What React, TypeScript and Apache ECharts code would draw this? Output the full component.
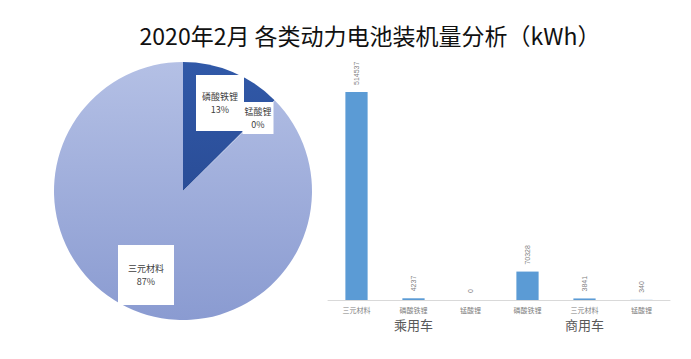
import React, { useEffect, useRef } from "react";
import * as echarts from "echarts";

const TITLE = "2020年2月 各类动力电池装机量分析（kWh）";

const barCategories = ["三元材料", "磷酸铁锂", "锰酸锂", "磷酸铁锂", "三元材料", "锰酸锂"];
const barGroups = ["乘用车", "商用车"];
const barValues = [514537, 4237, 0, 70328, 3841, 340];

const pieNames = ["磷酸铁锂", "锰酸锂", "三元材料"];
const pieValues = [74565, 340, 518378];

export default function App() {
  const ref = useRef<HTMLDivElement>(null);
  useEffect(() => {
    document.body.style.margin = "0";
    const chart = echarts.init(ref.current!, undefined, { renderer: "svg" });

    const pieStyle: Record<string, any> = {
      磷酸铁锂: {
        color: new echarts.graphic.LinearGradient(0, 0, 0, 1, [
          { offset: 0, color: "#3159a8" },
          { offset: 1, color: "#2a4d97" },
        ]),
        pos: [220, 103],
        padding: [15, 6, 15, 6],
      },
      锰酸锂: {
        color: "#c5cfea",
        pos: [258, 118],
        padding: [3, 2, 3, 2],
      },
      三元材料: {
        color: new echarts.graphic.LinearGradient(0, 0, 0, 1, [
          { offset: 0, color: "#b4c0e5" },
          { offset: 1, color: "#8a9bd1" },
        ]),
        pos: [146, 275],
        padding: [17, 10, 17, 10],
      },
    };

    const pieData = pieNames.map((n, i) => ({
      name: n,
      value: pieValues[i],
      itemStyle: { color: pieStyle[n].color },
      label: { padding: pieStyle[n].padding },
    }));

    chart.setOption({
      animation: false,
      backgroundColor: "#ffffff",
      title: {
        text: TITLE,
        left: 365,
        textAlign: "center",
        top: 18,
        textStyle: {
          fontFamily: "Noto Sans CJK SC",
          fontSize: 23,
          fontWeight: "normal",
          color: "#111111",
        },
      },
      grid: { left: 328, right: 21, top: 92, bottom: 59 },
      xAxis: [
        {
          type: "category",
          data: barCategories,
          axisLine: { lineStyle: { color: "#d9d9d9" } },
          axisTick: { length: 14, lineStyle: { color: "#d9d9d9" } },
          axisLabel: {
            fontSize: 7,
            color: "#7f7f7f",
            margin: 6,
            fontFamily: "Noto Sans CJK SC",
            interval: 0,
          },
        },
        {
          type: "category",
          data: barGroups,
          position: "bottom",
          offset: 14,
          axisLine: { show: false },
          axisTick: { length: 22, lineStyle: { color: "#d9d9d9" } },
          axisLabel: {
            fontSize: 13,
            color: "#595959",
            margin: 4,
            fontFamily: "Noto Sans CJK SC",
          },
        },
      ],
      yAxis: { type: "value", show: false, min: 0, max: "dataMax" },
      series: [
        {
          type: "bar",
          data: barValues,
          barWidth: "39%",
          itemStyle: { color: "#5b9bd5" },
          label: {
            show: true,
            position: "top",
            rotate: 90,
            align: "left",
            verticalAlign: "middle",
            distance: 7,
            fontSize: 7,
            color: "#7f7f7f",
          },
        },
        {
          type: "pie",
          center: [183, 191],
          radius: 129,
          startAngle: 90,
          clockwise: true,
          percentPrecision: 0,
          minShowLabelAngle: 0,
          avoidLabelOverlap: false,
          data: pieData,
          label: {
            show: true,
            position: "inside",
            formatter: "{b}\n{d}%",
            backgroundColor: "#ffffff",
            color: "#404040",
            fontSize: 9,
            lineHeight: 13,
            fontFamily: "Noto Sans CJK SC",
            align: "center",
            verticalAlign: "middle",
          },
          labelLayout: (params: any) => {
            const p = pieStyle[pieNames[params.dataIndex]].pos;
            return { x: p[0], y: p[1], align: "center", verticalAlign: "middle", hideOverlap: false };
          },
          labelLine: { show: false },
          emphasis: { disabled: true },
        },
      ],
    });
    return () => chart.dispose();
  }, []);
  return <div ref={ref} style={{ width: 691, height: 359 }} />;
}
